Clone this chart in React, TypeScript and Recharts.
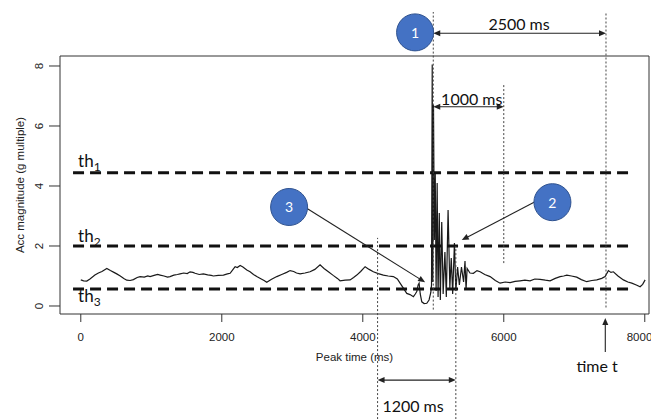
import { Label, Line, LineChart, ReferenceArea, ReferenceDot, ReferenceLine, XAxis, YAxis } from "recharts";

// acceleration trace (ms, g multiple)
const times = [
  0, 40, 85, 130, 200, 250, 300, 369, 420, 470, 510, 560, 610, 652, 700, 746, 800, 841, 900, 950,
  983, 1040, 1090, 1125, 1180, 1230, 1266, 1320, 1370, 1408, 1460, 1510, 1550, 1590, 1621, 1680, 1739, 1800, 1850, 1881,
  1950, 2023, 2080, 2118, 2160, 2189, 2220, 2260, 2300, 2355, 2401, 2450, 2496, 2560, 2600, 2638, 2700, 2780, 2850, 2920,
  2969, 3020, 3060, 3111, 3180, 3252, 3320, 3394, 3450, 3512, 3580, 3640, 3678, 3750, 3820, 3870, 3915, 3970, 4033, 4090,
  4150, 4220, 4292, 4360, 4434, 4490, 4529, 4580, 4624, 4670, 4718, 4745, 4766, 4785, 4799, 4815, 4837, 4870, 4908, 4940,
  4965, 4975, 4985, 4993, 5003, 5015, 5028, 5040, 5055, 5068, 5085, 5100, 5120, 5140, 5165, 5185, 5210, 5235, 5255, 5275,
  5300, 5320, 5345, 5370, 5400, 5430, 5450, 5465, 5480, 5520, 5569, 5620, 5664, 5730, 5806, 5880, 5948, 6020, 6090, 6160,
  6231, 6300, 6373, 6440, 6515, 6590, 6657, 6730, 6799, 6850, 6894, 6960, 7035, 7100, 7177, 7250, 7319, 7390, 7437, 7484,
  7520, 7555, 7620, 7697, 7760, 7816, 7880, 7934, 7970, 8005,
];
const acc = [
  0.87, 0.84, 0.83, 0.9, 1.03, 1.1, 1.15, 1.25, 1.18, 1.12, 1.07, 1.0, 0.92, 0.86, 0.85, 0.88, 0.95, 0.98, 0.96, 1.0,
  0.98, 1.02, 1.05, 1.03, 1.0, 0.96, 0.98, 1.03, 1.05, 1.07, 1.1, 1.08, 1.14, 1.12, 1.09, 1.05, 1.07, 1.04, 1.02, 1.0,
  1.02, 1.03, 1.07, 1.09, 1.22, 1.31, 1.28, 1.35, 1.3, 1.2, 1.14, 1.05, 0.98, 0.9, 0.85, 0.79, 0.88, 0.98, 1.05, 1.12,
  1.18, 1.15, 1.1, 1.07, 1.1, 1.14, 1.22, 1.37, 1.25, 1.14, 1.02, 0.92, 0.84, 0.86, 0.87, 0.95, 1.03, 1.15, 1.31, 1.22,
  1.14, 1.08, 1.03, 1.0, 0.98, 0.9, 0.76, 0.58, 0.42, 0.38, 0.31, 0.4, 0.48, 0.7, 0.76, 0.4, 0.14, 0.08, 0.09, 0.2,
  0.45, 0.7, 8.05, 0.8, 6.7, 2.2, 4.4, 0.5, 4.1, 0.3, 3.1, 0.2, 2.8, 0.4, 1.8, 0.3, 3.2, 0.6, 1.6, 0.4,
  2.1, 0.5, 1.3, 0.7, 1.3, 0.8, 1.5, 0.55, 1.25, 1.1, 1.09, 1.18, 1.14, 1.05, 0.98, 0.85, 0.76, 0.8, 0.78, 0.82,
  0.84, 0.86, 0.84, 0.9, 0.89, 0.86, 0.84, 0.92, 0.98, 1.0, 1.03, 1.0, 0.96, 0.88, 0.81, 0.85, 0.87, 0.92, 0.98, 1.18,
  1.12, 1.14, 1.0, 0.87, 0.8, 0.76, 0.7, 0.64, 0.72, 0.87,
];
const xTicks = [0, 2000, 4000, 6000, 8000];
const yTicks = [0, 2, 4, 6, 8];
const xDomain = [-295, 8060];
const yDomain = [-0.267, 8.333];

// thresholds th1..th3
const thNames = ["1", "2", "3"];
const thValues = [4.44, 2.0, 0.57];
const thLabelY = [4.63, 2.13, 0.13];
const thSpan = [-110, 7790];
const thLabelX = -38;

// dotted guides: x, y from, y to
const guideX = [5000, 6000, 7450, 4210, 5320];
const guideFrom = [-0.12, 1.43, -0.05, -3.77, -3.77];
const guideTo = [9.8, 7.4, 9.77, 2.27, 2.0];

// double-headed spans
const spanText = ["2500 ms", "1000 ms", "1200 ms"];
const spanStart = [5000, 5000, 4210];
const spanEnd = [7450, 6000, 5320];
const spanY = [9.09, 6.64, -2.47];
const spanTextX = [6217, 5546, 4713];
const spanTextY = [9.4, 6.93, -3.33];

// numbered markers and their pointers
const markerNames = ["1", "2", "3"];
const markerX = [4742, 6690, 2955];
const markerY = [9.12, 3.46, 3.3];
const pointerFrom = [{ x: 6450, y: 3.48 }, { x: 3210, y: 3.25 }];
const pointerTo = [{ x: 5404, y: 2.2 }, { x: 4884, y: 0.79 }];

const chartData = times.map((t, i) => ({ t, acc: acc[i] }));

const annoFont = "Lato, 'Open Sans', sans-serif";
const axisFont = "'Liberation Sans', Arial, sans-serif";

function head(x: number, y: number, ux: number, uy: number, color: string) {
  const L = 7;
  const W = 3;
  const bx = x - ux * L;
  const by = y - uy * L;
  const pts = `${x},${y} ${bx - uy * W},${by + ux * W} ${bx + uy * W},${by - ux * W}`;
  return <polygon points={pts} fill={color} />;
}

function Arrow(props: any) {
  const { x1, y1, x2, y2, both } = props;
  const dx = x2 - x1;
  const dy = y2 - y1;
  const len = Math.sqrt(dx * dx + dy * dy) || 1;
  const ux = dx / len;
  const uy = dy / len;
  const color = "#222";
  return (
    <g>
      <line x1={both ? x1 + ux * 5 : x1} y1={both ? y1 + uy * 5 : y1} x2={x2 - ux * 5} y2={y2 - uy * 5} stroke={color} strokeWidth={1.1} />
      {head(x2, y2, ux, uy, color)}
      {both ? head(x1, y1, -ux, -uy, color) : null}
    </g>
  );
}

export default function App() {
  return (
    <div style={{ position: "absolute", left: 0, top: 0, background: "#fff" }}>
      <LineChart width={651} height={419} data={chartData} margin={{ top: 56, right: 2, bottom: 0, left: 0 }}>
        <XAxis
          dataKey="t"
          type="number"
          domain={xDomain}
          ticks={xTicks}
          allowDataOverflow
          axisLine={false}
          tickSize={8}
          tickMargin={11}
          height={105}
          tickLine={{ stroke: "#333" }}
          tick={{ fontSize: 11.5, fill: "#222", fontFamily: axisFont }}
        >
          <Label
            content={(p: any) => (
              <text x={p.viewBox.x + p.viewBox.width / 2} y={p.viewBox.y + 43} textAnchor="middle" dominantBaseline="central" fontSize={11.5} fill="#222" fontFamily={axisFont}>
                Peak time (ms)
              </text>
            )}
          />
        </XAxis>
        <YAxis
          type="number"
          domain={yDomain}
          ticks={yTicks}
          allowDataOverflow
          width={60}
          axisLine={false}
          tickSize={11}
          tickLine={{ stroke: "#333" }}
          tick={(p: any) => (
            <text x={p.x - 8} y={p.y} transform={`rotate(-90, ${p.x - 8}, ${p.y})`} textAnchor="middle" dominantBaseline="central" fontSize={11.5} fill="#222" fontFamily={axisFont}>
              {p.payload.value}
            </text>
          )}
        >
          <Label
            content={(p: any) => (
              <text x={20} y={p.viewBox.y + p.viewBox.height / 2} transform={`rotate(-90, 20, ${p.viewBox.y + p.viewBox.height / 2})`} textAnchor="middle" dominantBaseline="central" fontSize={11.5} fill="#222" fontFamily={axisFont}>
                Acc magnitude (g multiple)
              </text>
            )}
          />
        </YAxis>
        <ReferenceArea x1={xDomain[0]} x2={xDomain[1]} y1={yDomain[0]} y2={yDomain[1]} fill="none" stroke="#333" strokeWidth={1} ifOverflow="visible" />
        <Line dataKey="acc" type="linear" stroke="#1a1a1a" strokeWidth={1.2} dot={false} isAnimationActive={false} />
        {thValues.map((v, i) => (
          <ReferenceLine
            key={`th${i}`}
            segment={[{ x: thSpan[0], y: v }, { x: thSpan[1], y: v }]}
            stroke="#111"
            strokeWidth={3}
            strokeDasharray="11 6"
            ifOverflow="visible"
          />
        ))}
        {thNames.map((n, i) => (
          <ReferenceDot
            key={`thl${i}`}
            x={thLabelX}
            y={thLabelY[i]}
            r={0}
            ifOverflow="visible"
            shape={(p: any) => (
              <text x={p.cx} y={p.cy} fontSize={17} fill="#111" fontFamily={annoFont}>
                th<tspan dy={4} fontSize={12}>{n}</tspan>
              </text>
            )}
          />
        ))}
        {guideX.map((x, i) => (
          <ReferenceLine
            key={`g${i}`}
            segment={[{ x, y: guideFrom[i] }, { x, y: guideTo[i] }]}
            stroke="#444"
            strokeWidth={1}
            strokeDasharray="2 2"
            ifOverflow="visible"
          />
        ))}
        {spanText.map((s, i) => (
          <ReferenceLine
            key={`s${i}`}
            segment={[{ x: spanStart[i], y: spanY[i] }, { x: spanEnd[i], y: spanY[i] }]}
            ifOverflow="visible"
            shape={(p: any) => <Arrow {...p} both />}
          />
        ))}
        {spanText.map((s, i) => (
          <ReferenceDot
            key={`st${i}`}
            x={spanTextX[i]}
            y={spanTextY[i]}
            r={0}
            ifOverflow="visible"
            shape={(p: any) => (
              <text x={p.cx} y={p.cy} textAnchor="middle" dominantBaseline="central" fontSize={16} fill="#111" fontFamily={annoFont}>
                {s}
              </text>
            )}
          />
        ))}
        <ReferenceLine
          segment={[{ x: 7440, y: -1.53 }, { x: 7440, y: -0.4 }]}
          ifOverflow="visible"
          shape={(p: any) => <Arrow {...p} />}
        />
        <ReferenceDot
          x={7323}
          y={-2.0}
          r={0}
          ifOverflow="visible"
          shape={(p: any) => (
            <text x={p.cx} y={p.cy} textAnchor="middle" dominantBaseline="central" fontSize={16} fill="#111" fontFamily={annoFont}>
              time t
            </text>
          )}
        />
        {pointerFrom.map((f, i) => (
          <ReferenceLine
            key={`p${i}`}
            segment={[f, pointerTo[i]]}
            ifOverflow="visible"
            shape={(p: any) => <Arrow {...p} />}
          />
        ))}
        {markerNames.map((n, i) => (
          <ReferenceDot
            key={`m${i}`}
            x={markerX[i]}
            y={markerY[i]}
            r={18.5}
            ifOverflow="visible"
            shape={(p: any) => (
              <g>
                <circle cx={p.cx} cy={p.cy} r={18.5} fill="#4472C4" stroke="#2F528F" strokeWidth={1} />
                <text x={p.cx} y={p.cy} textAnchor="middle" dominantBaseline="central" fontSize={14} fill="#fff" fontFamily={annoFont}>
                  {n}
                </text>
              </g>
            )}
          />
        ))}
      </LineChart>
    </div>
  );
}
